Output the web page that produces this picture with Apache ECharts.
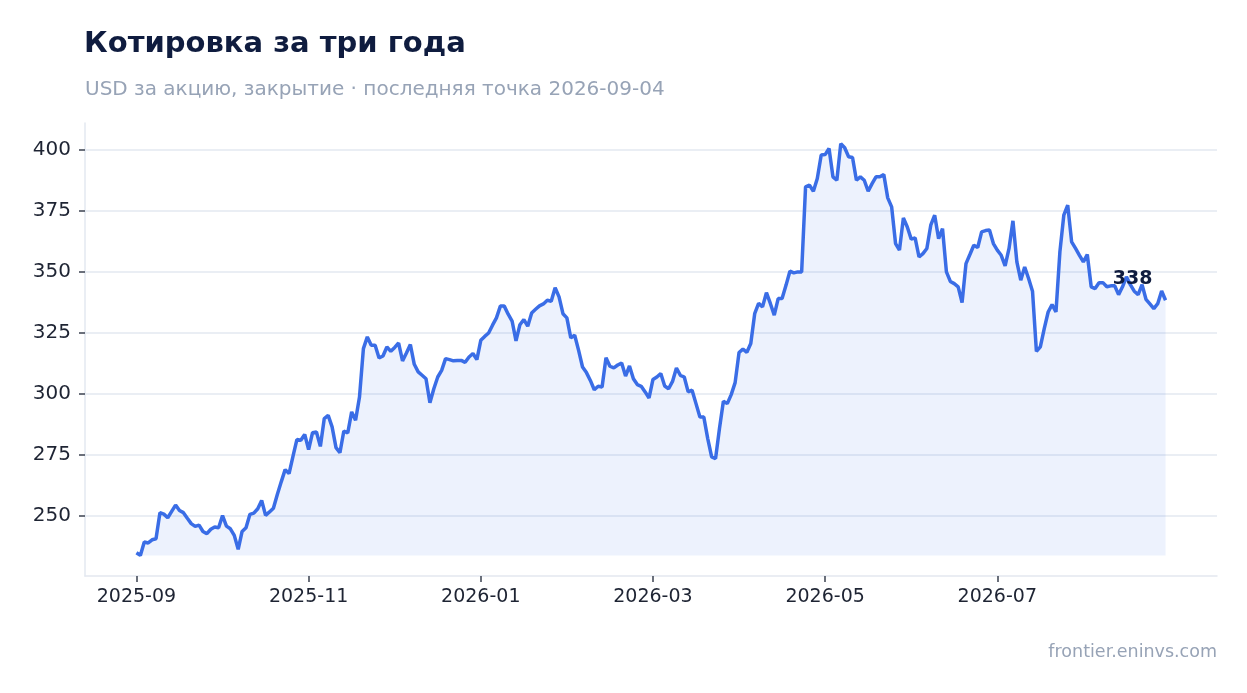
<!DOCTYPE html>
<html lang="ru">
<head>
<meta charset="UTF-8">
<title>Котировка за три года</title>
<script src="https://cdn.jsdelivr.net/npm/echarts@6.0.0/dist/echarts.min.js"></script>
<style>
    html, body { margin: 0; padding: 0; background: #fff; }
    #main { width: 1247px; height: 693px; }
</style>
</head>
<body>
<div id="main"></div>

<script type="text/javascript">
    // цены закрытия по торговым дням, 2025-09-02 ... 2026-09-04
    const closePrices = [
        235.0, 233.9, 239.4, 239.0, 240.3, 240.7, 251.4, 250.8, 249.3, 251.9,
        254.5, 252.3, 251.4, 249.1, 246.9, 245.8, 246.3, 243.7, 242.8, 244.6,
        245.5, 245.2, 250.2, 245.9, 244.8, 242.1, 236.4, 243.7, 245.2, 250.7,
        251.2, 253.0, 256.4, 250.3, 251.7, 253.2, 258.8, 264.0, 269.0, 267.4,
        274.4, 281.3, 281.0, 283.4, 277.2, 284.1, 284.4, 278.5, 289.9, 291.2,
        286.5, 278.0, 275.9, 284.8, 284.0, 292.6, 289.2, 298.7, 318.5, 323.3,
        319.9, 319.9, 314.7, 315.5, 319.2, 317.4, 319.0, 320.8, 313.5, 316.7,
        320.2, 312.1, 309.0, 307.6, 306.2, 296.4, 302.1, 306.9, 309.6, 314.4,
        314.0, 313.5, 313.6, 313.7, 312.9, 315.1, 316.5, 314.0, 321.9, 323.5,
        324.9, 328.1, 331.1, 335.9, 335.9, 332.6, 329.8, 321.7, 328.3, 330.4,
        327.7, 333.1, 334.6, 336.0, 336.8, 338.3, 337.9, 343.4, 339.7, 332.8,
        331.1, 322.9, 324.0, 317.8, 311.0, 308.7, 305.5, 301.7, 303.1, 302.8,
        314.8, 311.3, 310.6, 311.8, 312.6, 307.3, 311.4, 306.2, 303.8, 303.1,
        300.8, 298.3, 305.9, 306.9, 308.3, 303.2, 302.1, 305.1, 310.6, 307.6,
        306.9, 300.8, 301.5, 296.0, 290.5, 290.5, 281.7, 274.2, 273.5, 285.8,
        297.0, 296.0, 299.7, 304.6, 316.9, 318.3, 317.0, 320.6, 332.8, 337.0,
        335.6, 341.4, 337.0, 332.2, 339.0, 339.0, 344.4, 350.2, 349.5, 349.9,
        349.9, 384.7, 385.4, 382.9, 388.1, 397.7, 397.9, 400.4, 388.8, 387.4,
        402.4, 400.7, 397.0, 396.7, 387.4, 388.8, 387.4, 382.9, 386.0, 388.8,
        388.8, 389.7, 380.2, 376.5, 361.5, 358.8, 372.0, 368.3, 363.3, 363.8,
        356.0, 357.4, 359.5, 369.0, 373.1, 363.5, 367.6, 349.9, 346.0, 345.1,
        343.8, 337.4, 353.3, 357.0, 360.8, 359.9, 366.3, 366.8, 367.0, 361.5,
        358.8, 356.7, 352.4, 359.5, 370.8, 354.0, 346.5, 351.9, 347.2, 342.0,
        317.4, 319.2, 326.7, 333.5, 336.5, 333.5, 358.1, 373.1, 377.2, 362.2,
        359.5, 356.7, 354.0, 357.0, 343.8, 343.1, 345.5, 345.5, 343.8, 344.2,
        344.2, 340.6, 343.8, 347.9, 344.7, 342.0, 340.6, 344.7, 338.7, 336.8,
        334.9, 336.9, 342.1, 338.3
    ];

    // подписи оси X: номер торгового дня -> месяц
    const tickIndex = [0, 44, 88, 132, 176, 220];
    const tickLabels = ['2025-09', '2025-11', '2026-01', '2026-03', '2026-05', '2026-07'];
    const yTicks = [250, 275, 300, 325, 350, 375, 400];
    const lastDate = '2026-09-04';
</script>

<script type="text/javascript">
    const chart = echarts.init(document.getElementById('main'), null, {renderer: 'canvas'});

    const n = closePrices.length;
    const seriesData = closePrices.map((v, i) => [i, v]);
    const lo = Math.min(...closePrices);
    const hi = Math.max(...closePrices);
    const padY = (hi - lo) * 0.05;
    const padX = (n - 1) * 0.05;
    const last = closePrices[n - 1];

    const font = 'DejaVu Sans';
    const gridColor = '#e3e8f0';
    const tickColor = '#3b4150';

    const option = {
        animation: false,
        backgroundColor: '#ffffff',
        title: [{
            text: 'Котировка за три года',
            left: 79,
            top: 25,
            textStyle: {fontFamily: font, fontSize: 29, fontWeight: 'bold', color: '#0f1c3f'}
        }, {
            text: 'USD за акцию, закрытие · последняя точка ' + lastDate,
            left: 80,
            top: 75,
            textStyle: {fontFamily: font, fontSize: 20, fontWeight: 'normal', color: '#97a3b6'}
        }],
        graphic: [{
            type: 'text',
            right: 30,
            top: 643,
            style: {text: 'frontier.eninvs.com', font: '17.5px "DejaVu Sans"', fill: '#97a3b6'}
        }],
        grid: {left: 85, right: 30, top: 123, bottom: 117},
        xAxis: {
            type: 'value',
            min: -padX,
            max: n - 1 + padX,
            axisLine: {show: true, onZero: false, lineStyle: {color: gridColor, width: 1.5}},
            axisTick: {show: true, customValues: tickIndex, length: 6, lineStyle: {color: tickColor, width: 1.5}},
            axisLabel: {
                customValues: tickIndex,
                margin: 12,
                fontFamily: font,
                fontSize: 19,
                color: '#1e2433',
                formatter: (val) => tickLabels[tickIndex.indexOf(Math.round(val))] || ''
            },
            splitLine: {show: false}
        },
        yAxis: {
            type: 'value',
            min: lo - padY,
            max: hi + padY,
            axisLine: {show: true, onZero: false, lineStyle: {color: gridColor, width: 1.5}},
            axisTick: {show: true, customValues: yTicks, length: 6, lineStyle: {color: tickColor, width: 1.5}},
            axisLabel: {
                customValues: yTicks,
                margin: 14,
                fontFamily: font,
                fontSize: 20,
                color: '#1e2433'
            },
            splitLine: {show: true, lineStyle: {color: gridColor, width: 1.5}}
        },
        series: [{
            type: 'line',
            data: seriesData,
            symbol: 'none',
            lineStyle: {color: '#3a6de6', width: 3.5},
            itemStyle: {color: '#3a6de6'},
            areaStyle: {color: '#3a6de6', opacity: 0.09, origin: lo},
            markPoint: {
                symbol: 'circle',
                symbolSize: 0,
                silent: true,
                data: [{coord: [n - 1, last], value: Math.round(last)}],
                label: {
                    show: true,
                    position: 'inside',
                    offset: [-33, -21],
                    fontFamily: font,
                    fontSize: 19,
                    fontWeight: 'bold',
                    color: '#0f1c3f'
                }
            }
        }]
    };

    chart.setOption(option);
</script>
</body>
</html>
